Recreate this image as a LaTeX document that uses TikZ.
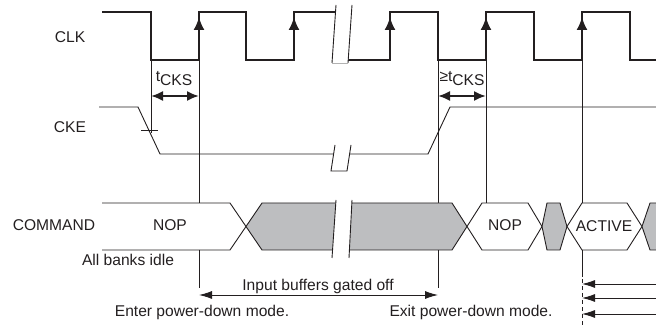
\documentclass[tikz,border=0pt]{standalone}
\usepackage{fontspec}
\setmainfont{Liberation Sans}
\usetikzlibrary{arrows.meta}
\definecolor{busgray}{RGB}{189,190,192}
\definecolor{ink}{RGB}{35,31,32}

\begin{document}
\begin{tikzpicture}[x=1pt, y=-1pt, >={Latex[length=13pt,width=8pt]},
  every node/.style={inner sep=0pt, text=ink, font=\fontsize{15.6}{17}\selectfont},
  clk/.style={line width=2pt, draw=ink},
  sig/.style={line width=0.9pt, draw=ink},
  bus/.style={line width=0.9pt, draw=ink, line join=miter}]
  \useasboundingbox (0,0) rectangle (656,328);

  % reference lines
  \draw[sig] (151,60) -- (151,133);
  \draw[sig] (199,60) -- (199,203) (199,250) -- (199,288);
  \draw[sig] (438,60) -- (438,288);
  \draw[sig] (486,60) -- (486,203);
  \draw[sig] (582,60) -- (582,203) (582,250) -- (582,277);
  \draw[sig, dash pattern=on 4pt off 3pt] (582,279) -- (582,328);

  % CLK
  \draw[clk] (102,12) -- (151,12) -- (151,60) -- (199,60) -- (199,12) -- (246,12)
    -- (246,60) -- (294,60) -- (294,12) -- (340,12);
  \draw[clk] (345,60) -- (390,60) -- (390,12) -- (438,12) -- (438,60) -- (486,60)
    -- (486,12) -- (534,12) -- (534,60) -- (582,60) -- (582,12) -- (630,12)
    -- (630,60) -- (656,60);
  \foreach \x in {199,294,390,486,582}
    \draw[line width=2pt, ink, -{Latex[length=13pt,width=11pt]}] (\x,42) -- (\x,17);

  % CKE
  \draw[sig] (99,107) -- (138,107) -- (160,154) -- (340,154);
  \draw[sig] (345,154) -- (428,154) -- (450,107) -- (656,107);
  \draw[sig] (141,130) -- (158,130);

  % COMMAND bus
  \draw[bus] (102,203) -- (230,203) -- (246,226.5) -- (230,250) -- (102,250);
  \filldraw[bus, fill=busgray] (246,226.5) -- (262,203) -- (452,203) -- (467,226.5)
    -- (452,250) -- (262,250) -- cycle;
  \draw[bus] (467,226.5) -- (482,203) -- (528,203) -- (542,226.5) -- (528,250)
    -- (482,250) -- cycle;
  \filldraw[bus, fill=busgray] (542,226.5) -- (547,203) -- (560,203) -- (567,226.5)
    -- (560,250) -- (547,250) -- cycle;
  \draw[bus] (567,226.5) -- (582,203) -- (627,203) -- (642,226.5) -- (627,250)
    -- (582,250) -- cycle;
  \fill[busgray] (642,226.5) -- (650,203) -- (656,203) -- (656,250) -- (650,250) -- cycle;
  \draw[bus] (656,203) -- (650,203) -- (642,226.5) -- (650,250) -- (656,250);

  % breaks
  \fill[white] (332,63) -- (336,5) -- (352,5) -- (348,63) -- cycle;
  \draw[sig] (336,5) -- (332,63) (352,5) -- (348,63);
  \draw[line width=0.5pt, gray!60] (332,63) -- (348,63);
  \fill[white] (331,171) -- (335,145) -- (351,145) -- (347,171) -- cycle;
  \draw[sig] (335,145) -- (331,171) -- (347,171) -- (351,145);
  \fill[white] (332,258) -- (336,200) -- (352,200) -- (349,258) -- cycle;
  \draw[sig] (336,200) -- (332,258) (352,200) -- (349,258);

  % setup times
  \coordinate (s1a) at (151,96);
  \coordinate (s1b) at (199,96);
  \coordinate (s2a) at (438,96);
  \coordinate (s2b) at (486,96);
  \draw[line width=2pt, ink, <->, >={Latex[length=12pt,width=10pt]}] (s1a) -- (s1b);
  \draw[line width=2pt, ink, <->, >={Latex[length=12pt,width=10pt]}] (s2a) -- (s2b);
  \node (tcks1) at (174,79) {t\raisebox{-4pt}{CKS}};
  \node (tcks2) at (462,79) {≥t\raisebox{-4pt}{CKS}};

  % power-down span
  \coordinate (pdl) at (199,295);
  \coordinate (pdr) at (438,295);
  \draw[sig, <->] (pdl) -- (pdr);
  \coordinate (act) at (582,0);
  \foreach \y in {284,298,314}
    \draw[sig, ->] (656,\y) -- (act |- 0,\y);

  % labels
  \node (clk) at (70,37) {CLK};
  \node (cke) at (70,127) {CKE};
  \node (cmd) at (54,225) {COMMAND};
  \node (nop1) at (170,225) {NOP};
  \node (idle) at (128,260) {All banks idle};
  \node (nop2) at (505,225) {NOP};
  \node (active) at (604,226) {ACTIVE};
  \node (gated) at (318,286) {Input buffers gated off};
  \node (enter) at (202,312) {Enter power-down mode.};
  \node (exit) at (471,312) {Exit power-down mode.};
\end{tikzpicture}
\end{document}
